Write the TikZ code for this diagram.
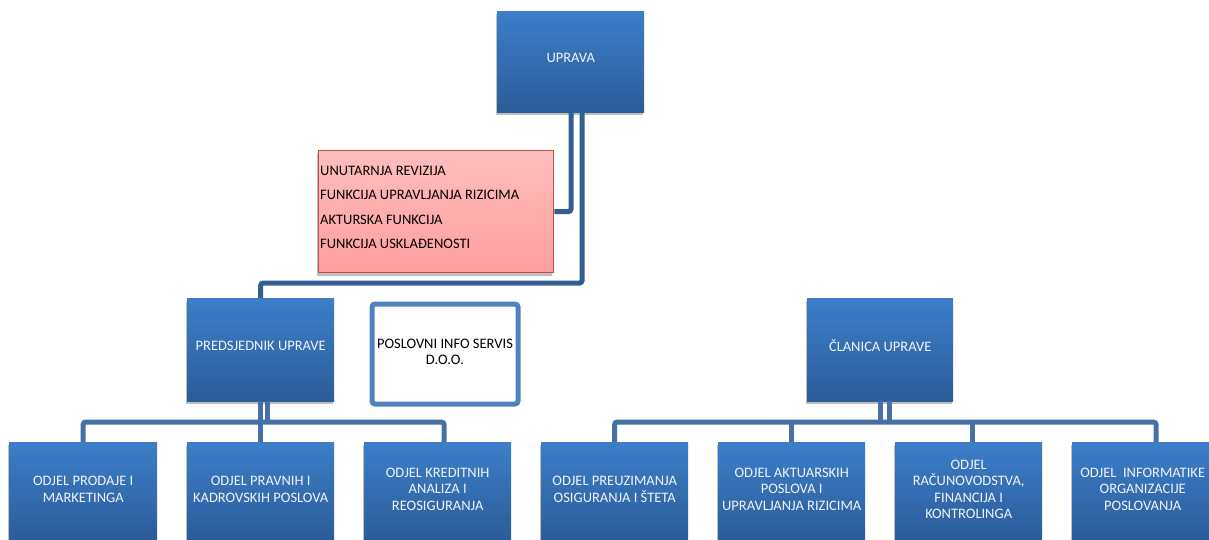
\documentclass[tikz,border=0pt]{standalone}
\usepackage{fontspec}
\setmainfont{Carlito}
\usetikzlibrary{shadows}
\definecolor{boxtop}{RGB}{60,126,201}
\definecolor{boxbot}{RGB}{44,92,153}
\definecolor{conn}{RGB}{69,113,166}
\definecolor{conndark}{RGB}{52,94,147}
\definecolor{redtop}{RGB}{255,190,190}
\definecolor{redbot}{RGB}{255,158,158}
\definecolor{redborder}{RGB}{192,80,77}
\definecolor{posborder}{RGB}{79,129,189}
\definecolor{txtw}{RGB}{240,244,250}
\definecolor{shadowc}{RGB}{190,190,190}
\begin{document}
\begin{tikzpicture}[x=1pt,y=-1pt,
  boxshadow/.style={general shadow={fill=shadowc, shadow xshift=-1.5pt, shadow yshift=-3pt}},
  bluebox/.style={draw=none, top color=boxtop, bottom color=boxbot, anchor=north west,
    inner sep=0pt, boxshadow},
  lbl/.style={text=txtw, align=center, font=\fontsize{14.5}{16.5}\selectfont},
  blbl/.style={text=black, align=center, font=\fontsize{14.5}{16.5}\selectfont},
  rlbl/.style={text=black, anchor=base west, inner sep=0pt, font=\fontsize{14.5}{16.5}\selectfont},
  conline/.style={draw=conn, line width=5pt, rounded corners=2.5pt},
  topline/.style={draw=conndark, line width=5pt, rounded corners=2.5pt},
]
\useasboundingbox (0,0) rectangle (1209,540);
\clip (0,0) rectangle (1209,540);

% top level
\node[bluebox, minimum width=147pt, minimum height=101pt,
  label={[lbl, yshift=4pt]center:UPRAVA}] (uprava) at (497,11) {};

% red box
\node[draw=redborder, line width=1.5pt, top color=redtop, bottom color=redbot,
  anchor=north west, inner sep=0pt, minimum width=235pt, minimum height=122pt, boxshadow]
  (red) at (317.75,149.75) {};
\node[rlbl] (r1) at (320,175.5) {UNUTARNJA REVIZIJA};
\node[rlbl] (r2) at (320,199.8) {FUNKCIJA UPRAVLJANJA RIZICIMA};
\node[rlbl] (r3) at (320,224.1) {AKTURSKA FUNKCIJA};
\node[rlbl] (r4) at (320,248.4) {FUNKCIJA USKLAĐENOSTI};

% second level
\node[bluebox, minimum width=147pt, minimum height=103pt,
  label={[lbl, yshift=4pt]center:PREDSJEDNIK UPRAVE}] (pred) at (187,298) {};
\node[draw=posborder, line width=5pt, rounded corners=3pt, fill=white, anchor=north west,
  inner sep=0pt, minimum width=146pt, minimum height=100pt,
  label={[blbl, yshift=2pt]center:{POSLOVNI INFO SERVIS\\D.O.O.}}] (pos) at (369.5,301.5) {};
\node[bluebox, minimum width=146pt, minimum height=103pt,
  label={[lbl, yshift=4pt]center:ČLANICA UPRAVE}] (clan) at (807,298) {};

% third level left
\node[bluebox, minimum width=148pt, minimum height=98pt,
  label={[lbl, yshift=2pt]center:{ODJEL PRODAJE I\\MARKETINGA}}] (prod) at (9,442) {};
\node[bluebox, minimum width=147pt, minimum height=98pt,
  label={[lbl, yshift=2pt]center:{ODJEL PRAVNIH I\\KADROVSKIH POSLOVA}}] (prav) at (187,442) {};
\node[bluebox, minimum width=147pt, minimum height=98pt,
  label={[lbl, yshift=2pt]center:{ODJEL KREDITNIH\\ANALIZA I\\REOSIGURANJA}}] (kred) at (364,442) {};

% third level right
\node[bluebox, minimum width=147pt, minimum height=98pt,
  label={[lbl, yshift=2pt]center:{ODJEL PREUZIMANJA\\OSIGURANJA I ŠTETA}}] (preuz) at (541,442) {};
\node[bluebox, minimum width=147pt, minimum height=98pt,
  label={[lbl, yshift=2pt]center:{ODJEL AKTUARSKIH\\POSLOVA I\\UPRAVLJANJA RIZICIMA}}] (akt) at (718,442) {};
\node[bluebox, minimum width=147pt, minimum height=98pt,
  label={[lbl, yshift=2pt]center:{ODJEL\\RAČUNOVODSTVA,\\FINANCIJA I\\KONTROLINGA}}] (rac) at (895,442) {};
\node[bluebox, minimum width=141pt, minimum height=98pt,
  label={[lbl, yshift=2pt]center:{ODJEL\ \ INFORMATIKE\\ORGANIZACIJE\\POSLOVANJA}}] (inf) at (1072,442) {};

% helper coordinates
\coordinate (u1) at (571,0);
\coordinate (j1) at (582,283);
\coordinate (lbar) at (267,422);
\coordinate (kdrop) at (444,442);
\coordinate (rbar) at (880,422);
\coordinate (rbar2) at (889,422);
\coordinate (rdrop) at (972,442);
\coordinate (idrop) at (1156,442);

% connectors from UPRAVA
\draw[topline] (uprava.south -| u1) |- (red.east);
\draw[topline] (uprava.south -| j1) -- (j1) -| (pred.north);

% connectors from PREDSJEDNIK
\draw[conline] (pred.south) -- (prav.north);
\draw[conline] (pred.south -| lbar) -- (lbar);
\draw[conline] (prod.north) -- (prod.north |- lbar) -- (kdrop |- lbar) -- (kdrop);

% connectors from CLANICA
\draw[conline] (clan.south -| rbar) -- (rbar);
\draw[conline] (clan.south -| rbar2) -- (rbar2);
\draw[conline] (preuz.north) -- (preuz.north |- rbar) -- (idrop |- rbar) -- (idrop);
\draw[conline] (akt.north |- rbar) -- (akt.north);
\draw[conline] (rdrop |- rbar) -- (rdrop);
\end{tikzpicture}
\end{document}
